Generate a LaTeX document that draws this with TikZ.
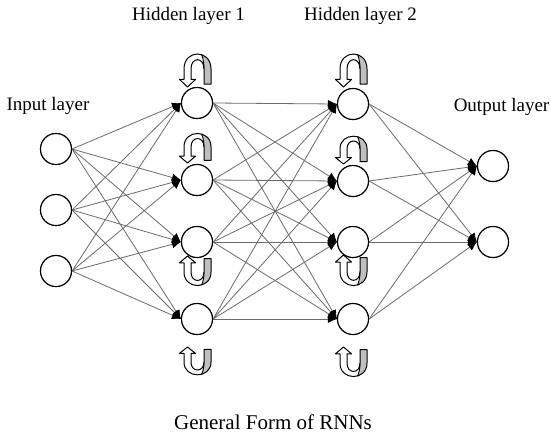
\documentclass[tikz,border=0pt]{standalone}
\usepackage{fontspec}
\setmainfont{Liberation Serif}
\usetikzlibrary{arrows.meta}
\newcommand{\rnnloopshape}{(14,-3) -- (14,-19) .. controls (14,-40) and (-13,-40) .. (-13,-19) -- (-13,-8) -- (-17.5,-8) -- (-9.5,0) -- (-1.5,-8) -- (-6,-8) -- (-6,-19) .. controls (-6,-32) and (7,-32) .. (7,-19) -- (7,-3) -- cycle}
\tikzset{
  neuron/.style={circle, draw=black, line width=1.1pt, fill=white, minimum size=31pt, inner sep=0pt},
  conn/.style={draw=black!58, line width=0.8pt, -{Latex[length=9pt,width=8pt,color=black]}},
  lbl/.style={anchor=base, inner sep=0pt, font=\fontsize{19}{19}\selectfont},
  captext/.style={anchor=base, inner sep=0pt, font=\fontsize{21}{21}\selectfont},
  loopicon/.pic={
    \path[fill=white] \rnnloopshape;
    \begin{scope}
      \clip \rnnloopshape;
      \fill[black!25] (14,-1) -- (14,-40) -- (4.5,-40) -- (4.5,-34.4) .. controls (6.5,-29) and (7,-24) .. (7,-19) -- (7,-1) -- cycle;
    \end{scope}
    \draw[line width=0.9pt, line join=round] (4.5,-34.4) .. controls (6.5,-29) and (7,-24) .. (7,-19);
    \draw[line width=1pt, line join=round] \rnnloopshape;
  }
}
\begin{document}
\begin{tikzpicture}[x=1pt, y=-1pt]
\useasboundingbox (0,0) rectangle (551,434);

% input layer
\node[neuron] (i1) at (56,149) {};
\node[neuron] (i2) at (56,210) {};
\node[neuron] (i3) at (56,271) {};
% hidden layer 1
\node[neuron] (a1) at (197,103) {};
\node[neuron] (a2) at (197,180) {};
\node[neuron] (a3) at (197,242) {};
\node[neuron] (a4) at (197,319) {};
% hidden layer 2
\node[neuron] (b1) at (353,104) {};
\node[neuron] (b2) at (353,181) {};
\node[neuron] (b3) at (353,242) {};
\node[neuron] (b4) at (353,319) {};
% output layer
\node[neuron] (o1) at (493,166) {};
\node[neuron] (o2) at (493,242) {};

% connections
\foreach \s in {1,2,3} \foreach \t in {1,2,3,4} \draw[conn] (i\s.east) -- (a\t.west);
\foreach \s in {1,2,3,4} \foreach \t in {1,2,3,4} \draw[conn] (a\s.east) -- (b\t.west);
\foreach \s in {1,2,3,4} \foreach \t in {1,2} \draw[conn] (b\s.east) -- (o\t.west);

% recurrent loop icons
\pic[yscale=0.95] at (197,87) {loopicon};
\pic[yscale=0.85] at (197,163) {loopicon};
\pic[yscale=-0.85] at (197,256) {loopicon};
\pic[yscale=-0.8] at (197,347) {loopicon};
\pic[yscale=0.95] at (353,87) {loopicon};
\pic[yscale=0.8] at (353,164) {loopicon};
\pic[yscale=-0.88] at (353,255) {loopicon};
\pic[yscale=-0.85] at (353,347) {loopicon};

% redraw neurons on top
\foreach \n in {i1,i2,i3,a1,a2,a3,a4,b1,b2,b3,b4,o1,o2}
  \draw[line width=1.1pt, fill=white] (\n.center) circle[radius=15.5];

% labels
\node[lbl] (lh1) at (188.5,20.5) {Hidden layer 1};
\node[lbl] (lh2) at (360.5,20.5) {Hidden layer 2};
\node[lbl] (lin) at (48,110.5) {Input layer};
\node[lbl] (lout) at (501.5,111) {Output layer};
\node[captext] (title) at (273,429) {General Form of RNNs};
\end{tikzpicture}
\end{document}
